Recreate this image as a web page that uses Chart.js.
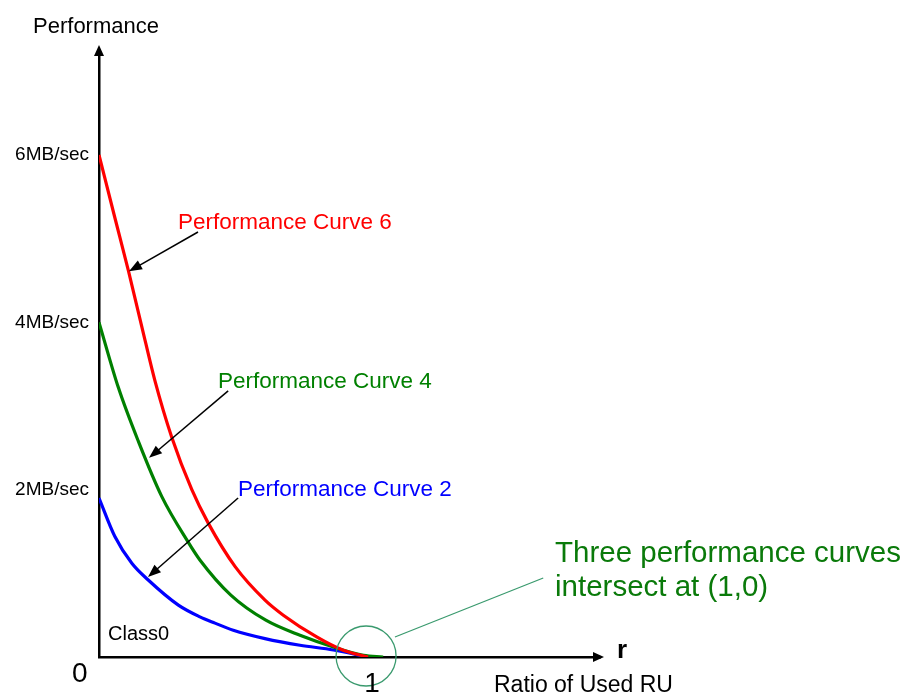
<!DOCTYPE html>
<html>
<head>
<meta charset="utf-8">
<script src="https://cdn.jsdelivr.net/npm/chart.js@4.4.1/dist/chart.umd.min.js"></script>
<style>
  html, body { margin: 0; padding: 0; background: #fff; }
  #wrap { width: 906px; height: 696px; }
</style>
</head>
<body>
<div id="wrap"><canvas id="chart" width="906" height="696"></canvas></div>
<script>
// values (r = ratio of used RU, perf = MB/sec)
const ratio6 = [0, 0.059, 0.109, 0.159, 0.208, 0.27, 0.345, 0.406, 0.506, 0.617, 0.685, 0.809, 0.908, 1];
const perf6  = [6.0, 5.25, 4.62, 3.95, 3.3, 2.63, 2.0, 1.6, 1.08, 0.68, 0.50, 0.24, 0.08, 0];
const ratio4 = [0, 0.072, 0.146, 0.233, 0.332, 0.375, 0.49, 0.62, 0.747, 0.871, 0.983, 1.056];
const perf4  = [4.0, 3.22, 2.58, 1.92, 1.37, 1.16, 0.74, 0.44, 0.26, 0.12, 0.02, 0];
const ratio2 = [0, 0.059, 0.122, 0.183, 0.295, 0.375, 0.431, 0.499, 0.617, 0.747, 0.871, 1];
const perf2  = [1.9, 1.44, 1.12, 0.92, 0.62, 0.48, 0.405, 0.32, 0.22, 0.14, 0.084, 0];
const yTicks = [2, 4, 6];

const FONT = '"Liberation Sans", Arial, sans-serif';

function pts(xs, ys) {
  return xs.map((x, i) => ({ x: x, y: ys[i] }));
}

function arrowHead(ctx, x1, y1, x2, y2, len, half) {
  const a = Math.atan2(y2 - y1, x2 - x1);
  ctx.beginPath();
  ctx.moveTo(x2, y2);
  ctx.lineTo(x2 - len * Math.cos(a) + half * Math.sin(a), y2 - len * Math.sin(a) - half * Math.cos(a));
  ctx.lineTo(x2 - len * Math.cos(a) - half * Math.sin(a), y2 - len * Math.sin(a) + half * Math.cos(a));
  ctx.closePath();
  ctx.fill();
}

function arrow(ctx, x1, y1, x2, y2) {
  const a = Math.atan2(y2 - y1, x2 - x1);
  ctx.beginPath();
  ctx.moveTo(x1, y1);
  ctx.lineTo(x2 - 8 * Math.cos(a), y2 - 8 * Math.sin(a));
  ctx.stroke();
  arrowHead(ctx, x1, y1, x2, y2, 13, 5);
}

const overlay = {
  id: 'overlay',
  afterDraw(chart) {
    const { ctx, chartArea } = chart;
    const px = v => chart.scales.x.getPixelForValue(v);
    const py = v => chart.scales.y.getPixelForValue(v);
    ctx.save();

    // axis arrow heads
    ctx.fillStyle = '#000';
    arrowHead(ctx, chartArea.left, chartArea.bottom, chartArea.left, chartArea.top - 5, 11, 5);
    arrowHead(ctx, chartArea.left, chartArea.bottom, chartArea.right + 4, chartArea.bottom, 11, 5);

    // pointer arrows to the curves
    ctx.strokeStyle = '#000';
    ctx.lineWidth = 1.5;
    arrow(ctx, px(0.368), py(5.08), px(0.1115), py(4.61));
    arrow(ctx, px(0.48), py(3.18), px(0.186), py(2.38));
    arrow(ctx, px(0.517), py(1.9), px(0.182), py(0.956));

    // circle at (1,0) and callout line
    ctx.strokeStyle = '#3a9a6e';
    ctx.lineWidth = 1.3;
    ctx.beginPath();
    ctx.arc(px(0.9926), py(0.012), 30, 0, Math.PI * 2);
    ctx.stroke();
    ctx.beginPath();
    ctx.moveTo(px(1.10), py(0.239));
    ctx.lineTo(px(1.651), py(0.944));
    ctx.stroke();

    // texts
    ctx.textBaseline = 'middle';
    const text = (s, x, y, size, color, align, weight) => {
      ctx.font = (weight || '') + ' ' + size + 'px ' + FONT;
      ctx.fillStyle = color;
      ctx.textAlign = align || 'left';
      ctx.fillText(s, x, y);
    };
    text('Performance', 96, 27, 22, '#000', 'center');
    text('Performance Curve 6', 178, 223, 22.5, '#ff0000');
    text('Performance Curve 4', 218, 382, 22.5, '#008000');
    text('Performance Curve 2', 238, 490, 22.5, '#0000ff');
    text('Class0', 108, 634, 20, '#000');
    text('0', 72, 674, 28, '#000');
    text('1', 372, 684, 28, '#000', 'center');
    text('r', 617, 651, 26, '#000', 'left', 'bold');
    text('Ratio of Used RU', 494, 686, 23, '#000');
    text('Three performance curves', 555, 554, 29.5, '#0a7a0a');
    text('intersect at (1,0)', 555, 588, 29.5, '#0a7a0a');
    ctx.restore();
  }
};

const lineStyle = {
  showLine: true,
  pointRadius: 0,
  borderWidth: 3.2,
  fill: false,
  cubicInterpolationMode: 'monotone'
};

new Chart(document.getElementById('chart'), {
  type: 'scatter',
  data: {
    datasets: [
      Object.assign({ label: 'Performance Curve 6', data: pts(ratio6, perf6), borderColor: '#ff0000' }, lineStyle),
      Object.assign({ label: 'Performance Curve 4', data: pts(ratio4, perf4), borderColor: '#008000' }, lineStyle),
      Object.assign({ label: 'Performance Curve 2', data: pts(ratio2, perf2), borderColor: '#0000ff' }, lineStyle)
    ]
  },
  options: {
    responsive: false,
    animation: false,
    layout: { padding: { top: 50, right: 306, bottom: 0, left: 0 } },
    plugins: {
      legend: { display: false },
      tooltip: { enabled: false }
    },
    scales: {
      x: {
        type: 'linear',
        min: 0,
        max: 1.862,
        grid: { display: false, drawTicks: false },
        border: { display: true, color: '#000', width: 2.5 },
        ticks: { display: false },
        afterFit(scale) { scale.height = 39; }
      },
      y: {
        type: 'linear',
        min: 0,
        max: 7.255,
        grid: { display: false, drawTicks: false },
        border: { display: true, color: '#000', width: 2.5 },
        afterBuildTicks(scale) { scale.ticks = yTicks.map(v => ({ value: v })); },
        ticks: {
          padding: 10,
          color: '#000',
          font: { family: FONT, size: 19 },
          callback: v => v + 'MB/sec'
        },
        afterFit(scale) { scale.width = 99; }
      }
    }
  },
  plugins: [overlay]
});
</script>
</body>
</html>
